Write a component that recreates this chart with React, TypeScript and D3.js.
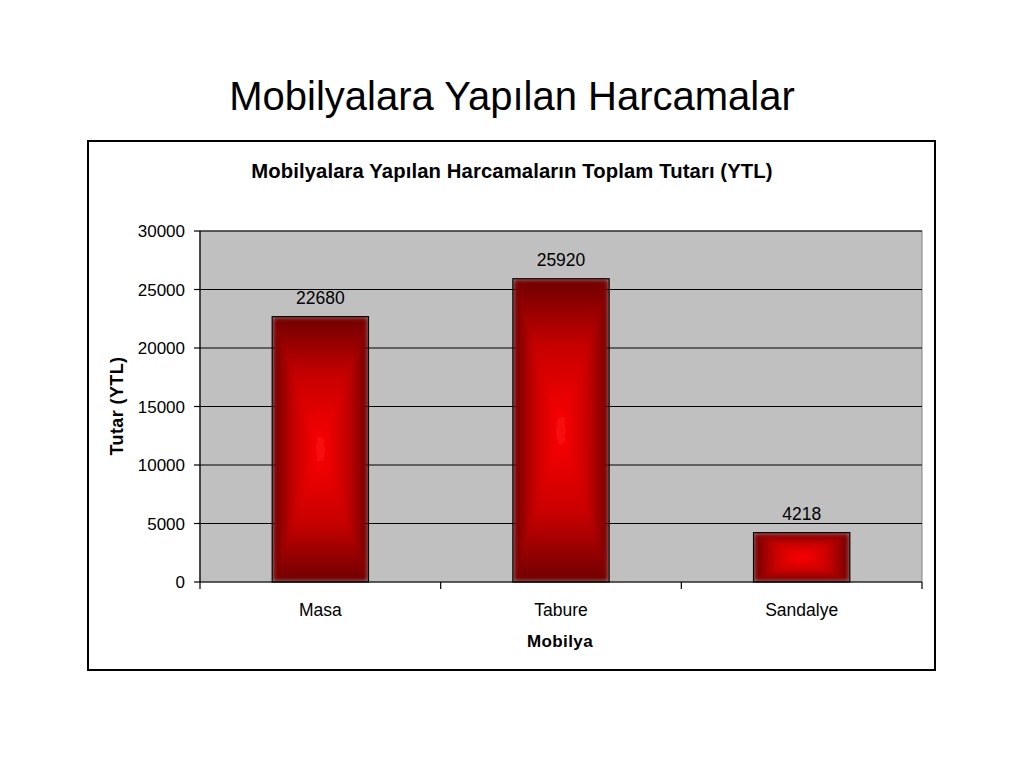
import React from "react";
import * as d3 from "d3";

const categories = ["Masa", "Tabure", "Sandalye"];
const values = [22680, 25920, 4218];
const yTicks = [0, 5000, 10000, 15000, 20000, 25000, 30000];

const W = 1024;
const H = 768;
const plot = { left: 200, right: 922, top: 231, bottom: 582 };
const FONT = "'Liberation Sans', Arial, sans-serif";

export default function App() {
  const x = d3
    .scaleBand<string>()
    .domain(categories)
    .range([plot.left, plot.right])
    .paddingInner(0.6)
    .paddingOuter(0.3);
  const xEdge = d3.scaleLinear().domain([0, categories.length]).range([plot.left, plot.right]);
  const y = d3.scaleLinear().domain([0, 30000]).range([plot.bottom, plot.top]);

  const dark = "#6e0000";
  const mid = "#c80000";
  const bright = "#ff0808";

  const stops = (
    <>
      <stop offset="0" stopColor={dark} />
      <stop offset="0.45" stopColor={mid} />
      <stop offset="1" stopColor={bright} />
    </>
  );

  return (
    <div style={{ margin: -8 }}>
      <svg width={W} height={H} style={{ display: "block", background: "#fff" }} fontFamily={FONT}>
        <defs>
          <linearGradient id="gTop" x1="0" y1="0" x2="0" y2="1">{stops}</linearGradient>
          <linearGradient id="gBottom" x1="0" y1="1" x2="0" y2="0">{stops}</linearGradient>
          <linearGradient id="gLeft" x1="0" y1="0" x2="1" y2="0">{stops}</linearGradient>
          <linearGradient id="gRight" x1="1" y1="0" x2="0" y2="0">{stops}</linearGradient>
          <filter id="soft" x="-5%" y="-5%" width="110%" height="110%">
            <feGaussianBlur stdDeviation="2.5" />
          </filter>
          {categories.map((c, i) => {
            const by = y(values[i]);
            return (
              <clipPath id={`clip${i}`} key={c}>
                <rect x={x(c)!} y={by} width={x.bandwidth()} height={plot.bottom - by} />
              </clipPath>
            );
          })}
        </defs>

        <text x={512} y={110} textAnchor="middle" fontSize={40} fill="#000">
          Mobilyalara Yapılan Harcamalar
        </text>

        <rect x={88} y={141} width={847} height={529} fill="#fff" stroke="#000" strokeWidth={2} />

        <text x={512} y={178} textAnchor="middle" fontSize={20.3} fontWeight="bold" fill="#000" letterSpacing={0.1}>
          Mobilyalara Yapılan Harcamaların Toplam Tutarı (YTL)
        </text>

        <rect
          x={plot.left}
          y={plot.top}
          width={plot.right - plot.left}
          height={plot.bottom - plot.top}
          fill="#c0c0c0"
          stroke="#808080"
          strokeWidth={1}
        />

        {yTicks.map((t) => (
          <g key={t}>
            {t > 0 && (
              <line x1={plot.left} x2={plot.right} y1={y(t)} y2={y(t)} stroke="#000" strokeWidth={1.2} />
            )}
            <line x1={plot.left - 6} x2={plot.left} y1={y(t)} y2={y(t)} stroke="#000" strokeWidth={1.2} />
            <text x={185} y={y(t) + 6} textAnchor="end" fontSize={17} fill="#000">
              {t}
            </text>
          </g>
        ))}

        {categories.map((c, i) => {
          const bx = x(c)!;
          const bw = x.bandwidth();
          const by = y(values[i]);
          const x0 = bx, x1 = bx + bw, y0 = by, y1 = plot.bottom;
          const cx = (x0 + x1) / 2;
          const cy = (y0 + y1) / 2;
          return (
            <g key={c}>
              <g clipPath={`url(#clip${i})`}>
                <g filter="url(#soft)">
                  <rect x={x0} y={y0} width={bw} height={y1 - y0} fill={mid} />
                  <polygon points={`${x0},${y0} ${x1},${y0} ${cx},${cy}`} fill="url(#gTop)" />
                  <polygon points={`${x0},${y1} ${x1},${y1} ${cx},${cy}`} fill="url(#gBottom)" />
                  <polygon points={`${x0},${y0} ${cx},${cy} ${x0},${y1}`} fill="url(#gLeft)" />
                  <polygon points={`${x1},${y0} ${cx},${cy} ${x1},${y1}`} fill="url(#gRight)" />
                </g>
              </g>
              <rect x={bx} y={by} width={bw} height={y1 - by} fill="none" stroke="#000" strokeWidth={1.2} />
              <text x={cx} y={by - 13} textAnchor="middle" fontSize={17.5} fill="#000">
                {values[i]}
              </text>
              <text x={cx} y={616} textAnchor="middle" fontSize={17.5} fill="#000">
                {c}
              </text>
            </g>
          );
        })}

        <line x1={plot.left} x2={plot.left} y1={plot.top} y2={plot.bottom} stroke="#000" strokeWidth={1.2} />
        <line x1={plot.left} x2={plot.right} y1={plot.bottom} y2={plot.bottom} stroke="#000" strokeWidth={1.2} />
        {d3.range(categories.length + 1).map((k) => (
          <line
            key={k}
            x1={xEdge(k)}
            x2={xEdge(k)}
            y1={plot.bottom}
            y2={plot.bottom + 7}
            stroke="#000"
            strokeWidth={1.2}
          />
        ))}

        <text x={560} y={647} textAnchor="middle" fontSize={17} fontWeight="bold" fill="#000" letterSpacing={0.4}>
          Mobilya
        </text>
        <text
          transform={`translate(123,406) rotate(-90)`}
          textAnchor="middle"
          fontSize={18}
          fontWeight="bold"
          fill="#000"
          letterSpacing={0.4}
        >
          Tutar (YTL)
        </text>
      </svg>
    </div>
  );
}
